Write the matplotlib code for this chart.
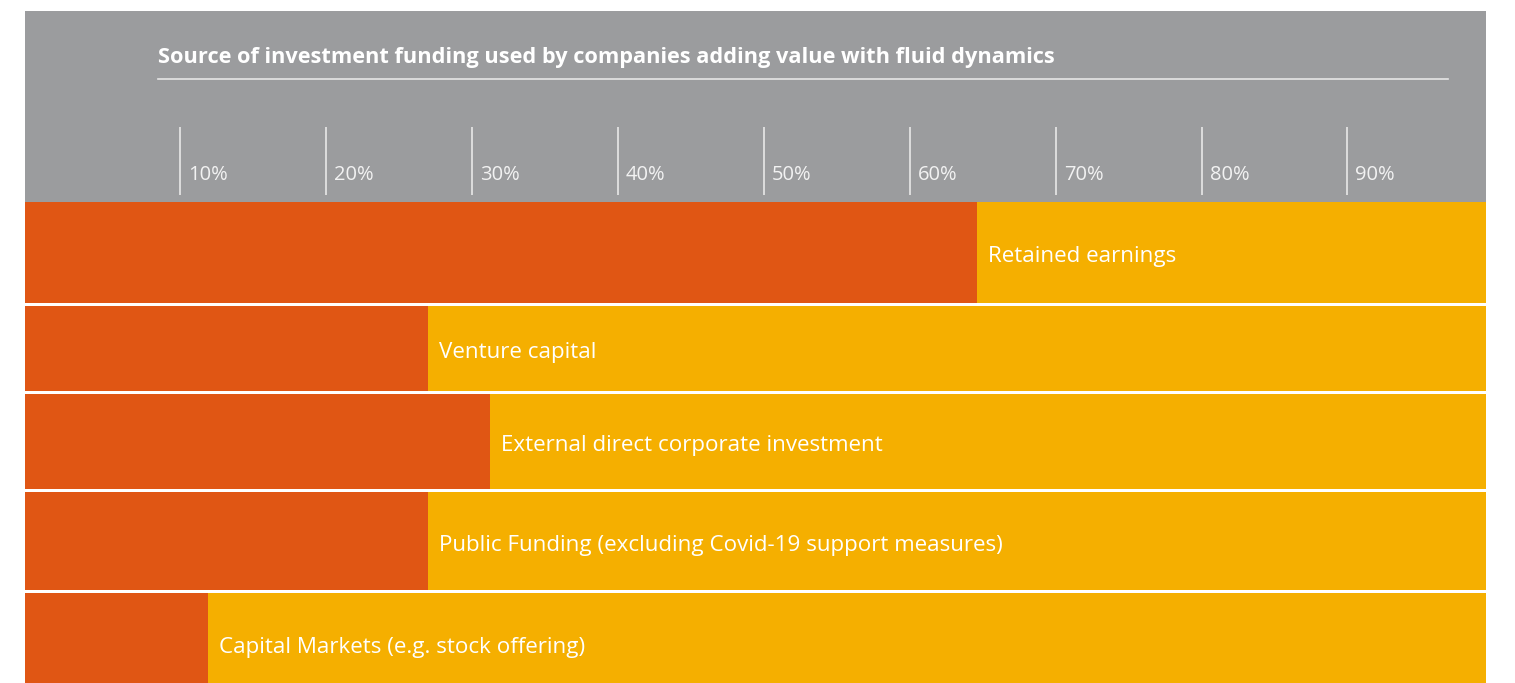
import matplotlib
matplotlib.use("Agg")
import matplotlib.pyplot as plt
from matplotlib.lines import Line2D

# ---- data ----
categories = [
    "Retained earnings",
    "Venture capital",
    "External direct corporate investment",
    "Public Funding (excluding Covid-19 support measures)",
    "Capital Markets (e.g. stock offering)",
]
values = [64.6, 27.0, 31.2, 27.0, 11.9]          # % of companies
tick_values = [10, 20, 30, 40, 50, 60, 70, 80, 90]
tick_labels = ["10%", "20%", "30%", "40%", "50%", "60%", "70%", "80%", "90%"]
title = "Source of investment funding used by companies adding value with fluid dynamics"

# ---- layout (pixel units, y downward) ----
W, H = 1515, 683
row_tops = [201.7, 306.0, 393.7, 492.3, 593.3]
row_bottoms = [303.3, 391.0, 489.3, 590.0, 694.0]
header_top, header_bottom = 11, 201.7
X0, X1 = -0.65, 99.5

ORANGE = "#E05614"
YELLOW = "#F5AF00"
GREY = "#9B9C9E"

plt.rcParams["font.family"] = ["Open Sans", "DejaVu Sans"]

fig = plt.figure(figsize=(W / 100, H / 100), dpi=100)
ax_left, ax_right = 25, 1486
ax = fig.add_axes([ax_left / W, 0, (ax_right - ax_left) / W, 1])
ax.set_xlim(X0, X1)
ax.set_ylim(H, 0)
ax.axis("off")

# header
ax.axhspan(header_top, header_bottom, color=GREY, lw=0, zorder=0)

# tick lines and labels
ax.vlines(tick_values, 127, 195, color="#E8E8E8", lw=1.2, zorder=2)
for tv, tl in zip(tick_values, tick_labels):
    ax.annotate(tl, xy=(tv, 180), xytext=(8, 0), textcoords="offset pixels",
                color="#F2F2F2", fontsize=14.5, va="baseline", ha="left")

# bars
for cat, v, t, b in zip(categories, values, row_tops, row_bottoms):
    yc = (t + b) / 2
    h = b - t
    ax.barh(yc, v - X0, height=h, left=X0, color=ORANGE, lw=0, zorder=1)
    ax.barh(yc, 100 - v, height=h, left=v, color=YELLOW, lw=0, zorder=1)
    ax.annotate(cat, xy=(v, yc + 9.5), xytext=(11, 0), textcoords="offset pixels",
                color="white", fontsize=16.1, va="baseline", ha="left")

# title and rule
fig.text(158 / W, 1 - 63 / H, title, color="white", fontsize=15.7,
         fontweight="bold", va="baseline", ha="left")
fig.add_artist(Line2D([158 / W, 1448 / W], [1 - 79 / H, 1 - 79 / H],
                      color="#E6E6E6", lw=1.2, transform=fig.transFigure))

fig.savefig("out.png", dpi=100)
